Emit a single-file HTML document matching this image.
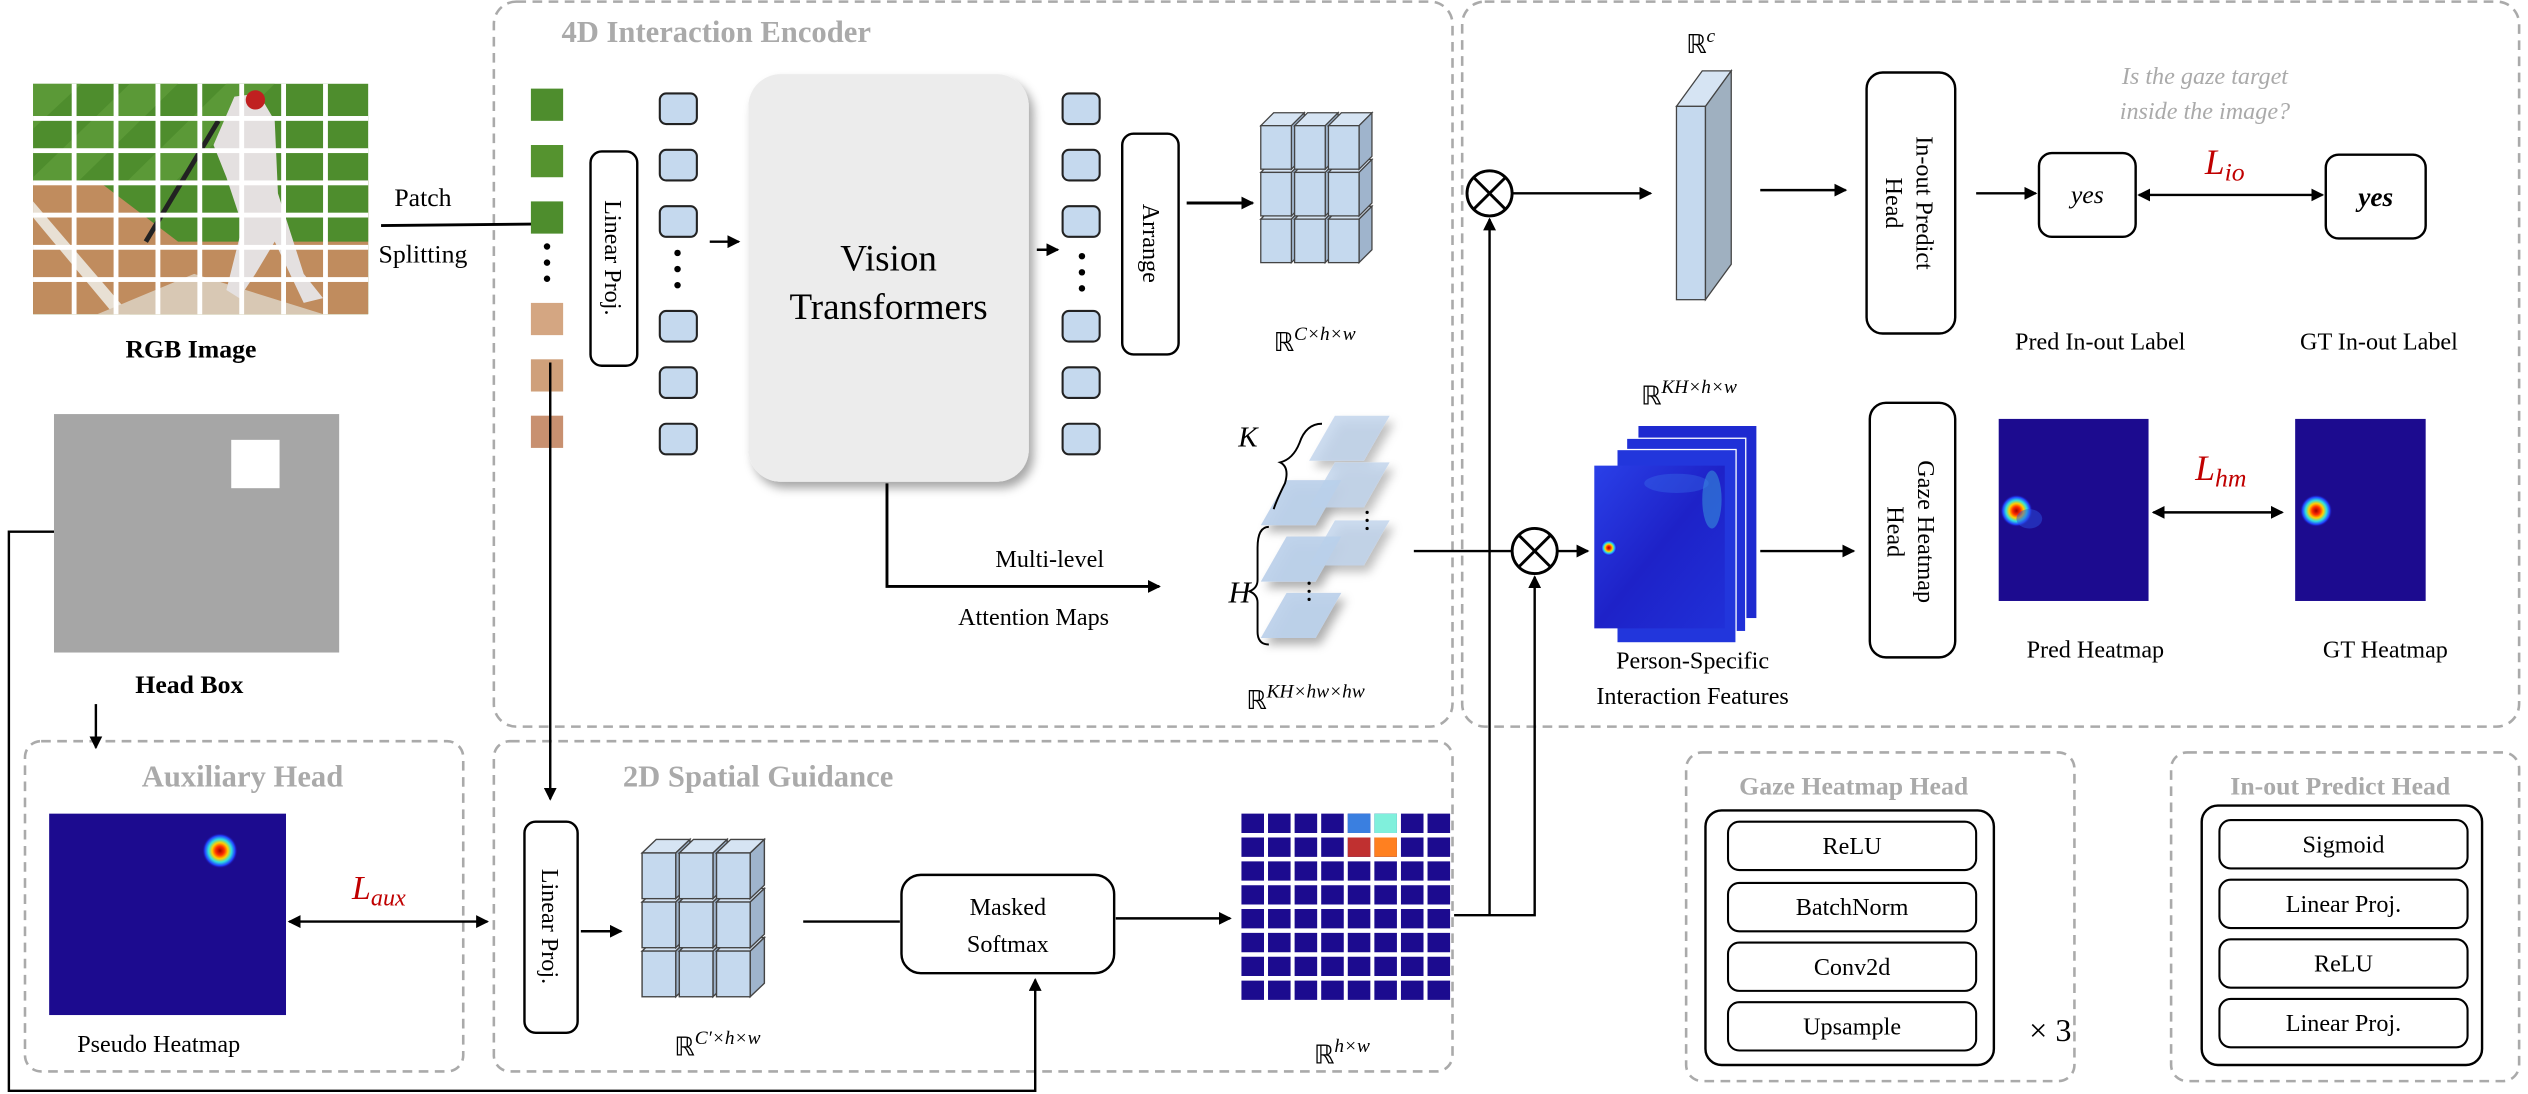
<!DOCTYPE html>
<html><head><meta charset="utf-8"><style>
html,body{margin:0;padding:0;background:#fff;}
svg{display:block;}
text{font-family:"Liberation Serif",serif;}
</style></head><body>
<svg width="2528" height="1094" viewBox="0 0 1568 679" xmlns="http://www.w3.org/2000/svg">
<defs>
<marker id="ar" markerWidth="8" markerHeight="8" refX="7" refY="4" orient="auto" markerUnits="userSpaceOnUse"><path d="M0,0 L8,4 L0,8 Z" fill="#000"/></marker>
<marker id="al" markerWidth="8" markerHeight="8" refX="1" refY="4" orient="auto" markerUnits="userSpaceOnUse"><path d="M8,0 L0,4 L8,8 Z" fill="#000"/></marker>
<radialGradient id="hot"><stop offset="0" stop-color="#a00000"/><stop offset="0.25" stop-color="#ff3000"/><stop offset="0.45" stop-color="#ffd000"/><stop offset="0.65" stop-color="#30e0e0"/><stop offset="0.85" stop-color="#2040ff"/><stop offset="1" stop-color="#1c0b8f" stop-opacity="0"/></radialGradient>
<linearGradient id="feat" x1="0" y1="0" x2="1" y2="1"><stop offset="0" stop-color="#2a40e8"/><stop offset="0.5" stop-color="#1e22c8"/><stop offset="1" stop-color="#2030d8"/></linearGradient>
<filter id="sh" x="-10%" y="-10%" width="130%" height="130%"><feDropShadow dx="3" dy="4" stdDeviation="3" flood-color="#000" flood-opacity="0.35"/></filter>
<g id="tok"><rect width="23" height="19" rx="4" fill="#c5d9ee" stroke="#222" stroke-width="1.3"/></g>
<g id="cube"><path d="M0,8 L8,0 L27,0 L19,8 Z" fill="#d6e4f3" stroke="#444" stroke-width="0.8"/><path d="M19,8 L27,0 L27,27 L19,35 Z" fill="#9fb4cc" stroke="#444" stroke-width="0.8"/><rect x="0" y="8" width="19" height="27" fill="#c5d9ee" stroke="#444" stroke-width="0.8"/></g>
<g id="cubes">
<use href="#cube" x="0" y="58"/><use href="#cube" x="21" y="58"/><use href="#cube" x="42" y="58"/>
<use href="#cube" x="0" y="29"/><use href="#cube" x="21" y="29"/><use href="#cube" x="42" y="29"/>
<use href="#cube" x="0" y="0"/><use href="#cube" x="21" y="0"/><use href="#cube" x="42" y="0"/>
</g>
<g id="plane"><path d="M16,0 L50,0 L34,28 L0,28 Z" fill="#b9cfea" opacity="0.9"/></g>
</defs>

<!-- dashed boxes -->
<g fill="none" stroke="#aaa" stroke-width="1.6" stroke-dasharray="6,4">
<rect x="306" y="1" width="595" height="450" rx="14"/>
<rect x="907" y="1" width="656" height="450" rx="14"/>
<rect x="15" y="460" width="272" height="205" rx="10"/>
<rect x="306" y="460" width="595" height="205" rx="10"/>
<rect x="1046" y="467" width="241" height="204" rx="10"/>
<rect x="1347" y="467" width="216" height="204" rx="10"/>
</g>
<g font-weight="bold" fill="#aaa" font-size="19" text-anchor="middle">
<text x="444" y="26">4D Interaction Encoder</text>
<text x="150" y="488">Auxiliary Head</text>
<text x="470" y="488">2D Spatial Guidance</text>
<text x="1150" y="493" font-size="16">Gaze Heatmap Head</text>
<text x="1452" y="493" font-size="16">In-out Predict Head</text>
</g>

<!-- RGB image -->
<g>
<rect x="20" y="52" width="208" height="143" fill="#4e8d2d"/>
<path d="M20,52 L50,52 L20,80Z M80,52 L110,52 L20,140 L20,110Z M140,52 L170,52 L60,160 L30,160Z" fill="#64a23e" opacity="0.6"/>
<rect x="20" y="112" width="208" height="83" fill="#c08c5e"/>
<path d="M60,112 L228,112 L228,150 L110,150 L60,112Z" fill="#4e8d2d"/>
<path d="M20,135 L70,195 L80,195 L20,125Z" fill="#e8e0d4"/>
<path d="M60,195 L120,170 L200,195Z" fill="#d8c8b4"/>
<path d="M145,60 L160,58 L170,75 L172,120 L188,170 L200,185 L188,188 L170,150 L158,170 L148,185 L140,180 L150,140 L140,110 L132,90 Z" fill="#e4e0e0"/>
<circle cx="158" cy="62" r="6" fill="#c02020"/>
<path d="M135,75 L90,150" stroke="#222" stroke-width="3"/>
<g fill="#fff">
<rect x="20" y="72" width="208" height="3"/><rect x="20" y="92" width="208" height="3"/><rect x="20" y="112" width="208" height="3"/><rect x="20" y="132" width="208" height="3"/><rect x="20" y="152" width="208" height="3"/><rect x="20" y="172" width="208" height="3"/>
<rect x="44" y="52" width="3" height="143"/><rect x="70" y="52" width="3" height="143"/><rect x="96" y="52" width="3" height="143"/><rect x="122" y="52" width="3" height="143"/><rect x="148" y="52" width="3" height="143"/><rect x="174" y="52" width="3" height="143"/><rect x="200" y="52" width="3" height="143"/>
</g>
</g>
<text x="118" y="222" font-size="16" font-weight="bold" text-anchor="middle">RGB Image</text>

<!-- head box -->
<rect x="33" y="257" width="177" height="148" fill="#a6a6a6"/>
<rect x="143" y="273" width="30" height="30" fill="#fff"/>
<text x="117" y="430" font-size="16" font-weight="bold" text-anchor="middle">Head Box</text>

<!-- patch splitting -->
<text x="262" y="128" font-size="16" text-anchor="middle">Patch</text>
<text x="262" y="163" font-size="16" text-anchor="middle">Splitting</text>
<line x1="236" y1="140" x2="338" y2="139" stroke="#000" stroke-width="1.8" marker-end="url(#ar)"/>

<!-- patches -->
<rect x="329" y="55" width="20" height="20" fill="#4e8d2d"/>
<rect x="329" y="90" width="20" height="20" fill="#55932f"/>
<rect x="329" y="125" width="20" height="20" fill="#4e8d2d"/>
<rect x="329" y="188" width="20" height="20" fill="#d4a682"/>
<rect x="329" y="223" width="20" height="20" fill="#cfa07a"/>
<rect x="329" y="258" width="20" height="20" fill="#c89070"/>
<g fill="#000"><circle cx="339" cy="153" r="2"/><circle cx="339" cy="163" r="2"/><circle cx="339" cy="173" r="2"/></g>

<!-- linear proj -->
<rect x="366" y="94" width="29" height="133" rx="7" fill="#fff" stroke="#000" stroke-width="1.5"/>
<text transform="translate(375,160) rotate(90)" font-size="15" text-anchor="middle">Linear Proj.</text>

<!-- tokens -->
<use href="#tok" x="409" y="58"/><use href="#tok" x="409" y="93"/><use href="#tok" x="409" y="128"/>
<use href="#tok" x="409" y="193"/><use href="#tok" x="409" y="228"/><use href="#tok" x="409" y="263"/>
<g fill="#000"><circle cx="420" cy="157" r="2"/><circle cx="420" cy="167" r="2"/><circle cx="420" cy="177" r="2"/></g>
<line x1="440" y1="150" x2="458" y2="150" stroke="#000" stroke-width="1.5" marker-end="url(#ar)"/>

<!-- ViT -->
<rect x="464" y="46" width="174" height="253" rx="20" fill="#ececec" filter="url(#sh)"/>
<text x="551" y="168" font-size="23" text-anchor="middle">Vision</text>
<text x="551" y="198" font-size="23" text-anchor="middle">Transformers</text>
<line x1="643" y1="155" x2="656" y2="155" stroke="#000" stroke-width="1.5" marker-end="url(#ar)"/>

<use href="#tok" x="659" y="58"/><use href="#tok" x="659" y="93"/><use href="#tok" x="659" y="128"/>
<use href="#tok" x="659" y="193"/><use href="#tok" x="659" y="228"/><use href="#tok" x="659" y="263"/>
<g fill="#000"><circle cx="671" cy="159" r="2"/><circle cx="671" cy="169" r="2"/><circle cx="671" cy="179" r="2"/></g>

<rect x="696" y="83" width="35" height="137" rx="7" fill="#fff" stroke="#000" stroke-width="1.5"/>
<text transform="translate(709,151) rotate(90)" font-size="15" text-anchor="middle">Arrange</text>
<line x1="736" y1="126" x2="777" y2="126" stroke="#000" stroke-width="1.8" marker-end="url(#ar)"/>

<!-- 3D cube top -->
<use href="#cubes" x="782" y="70"/>
<text x="790" y="218" font-size="16">ℝ<tspan dy="-7" font-size="12" font-style="italic">C×h×w</tspan></text>

<!-- attention planes -->
<g filter="url(#sh)">
<use href="#plane" x="812" y="258" opacity="0.8"/>
<use href="#plane" x="812" y="287" opacity="0.8"/>
<use href="#plane" x="782" y="298"/>
<use href="#plane" x="812" y="323" opacity="0.8"/>
<use href="#plane" x="782" y="333"/>
<use href="#plane" x="782" y="368"/>
</g>
<g fill="#000"><circle cx="848" cy="318" r="1"/><circle cx="848" cy="323" r="1"/><circle cx="848" cy="328" r="1"/><circle cx="812" cy="362" r="1"/><circle cx="812" cy="367" r="1"/><circle cx="812" cy="372" r="1"/></g>
<text x="768" y="277" font-size="18" font-style="italic">K</text>
<path d="M820,263 Q810,263 806,275 Q802,285 794,287 Q800,290 797,300 Q792,310 790,316" fill="none" stroke="#000" stroke-width="1.2"/>
<text x="762" y="374" font-size="19" font-style="italic">H</text>
<path d="M787,327 Q780,327 780,340 L780,360 Q780,365 775,367 Q780,369 780,374 L780,392 Q780,400 787,400" fill="none" stroke="#000" stroke-width="1.2"/>
<text x="773" y="440" font-size="16">ℝ<tspan dy="-7" font-size="12" font-style="italic">KH×hw×hw</tspan></text>

<!-- multi-level -->
<polyline points="550,300 550,364 719,364" fill="none" stroke="#000" stroke-width="1.8" marker-end="url(#ar)"/>
<text x="651" y="352" font-size="15" text-anchor="middle">Multi-level</text>
<text x="641" y="388" font-size="15" text-anchor="middle">Attention Maps</text>
<line x1="877" y1="342" x2="938" y2="342" stroke="#000" stroke-width="1.5"/>

<!-- otimes -->
<g fill="#fff" stroke="#000" stroke-width="1.8">
<circle cx="924" cy="120" r="14"/><line x1="914" y1="110" x2="934" y2="130"/><line x1="934" y1="110" x2="914" y2="130"/>
<circle cx="952" cy="342" r="14"/><line x1="942" y1="332" x2="962" y2="352"/><line x1="962" y1="332" x2="942" y2="352"/>
</g>
<line x1="938" y1="120" x2="1024" y2="120" stroke="#000" stroke-width="1.5" marker-end="url(#ar)"/>
<line x1="966" y1="342" x2="985" y2="342" stroke="#000" stroke-width="1.5" marker-end="url(#ar)"/>

<!-- Rc bar -->
<path d="M1040,66 L1056,44 L1074,44 L1058,66Z" fill="#d6e4f3" stroke="#444" stroke-width="0.8"/>
<rect x="1040" y="66" width="18" height="120" fill="#c5d9ee" stroke="#444" stroke-width="0.8"/>
<path d="M1058,66 L1074,44 L1074,164 L1058,186Z" fill="#9fb0c0" stroke="#444" stroke-width="0.8"/>
<text x="1046" y="33" font-size="16">ℝ<tspan dy="-7" font-size="12" font-style="italic">c</tspan></text>
<line x1="1092" y1="118" x2="1145" y2="118" stroke="#000" stroke-width="1.5" marker-end="url(#ar)"/>

<!-- in-out predict -->
<rect x="1158" y="45" width="55" height="162" rx="10" fill="#fff" stroke="#000" stroke-width="1.5"/>
<text transform="translate(1189,126) rotate(90)" font-size="15" text-anchor="middle">In-out Predict</text>
<text transform="translate(1170,126) rotate(90)" font-size="15" text-anchor="middle">Head</text>
<line x1="1226" y1="120" x2="1263" y2="120" stroke="#000" stroke-width="1.5" marker-end="url(#ar)"/>
<rect x="1265" y="95" width="60" height="52" rx="8" fill="#fff" stroke="#000" stroke-width="1.5"/>
<text x="1295" y="126" font-size="16" font-style="italic" text-anchor="middle">yes</text>
<rect x="1443" y="96" width="62" height="52" rx="8" fill="#fff" stroke="#000" stroke-width="1.5"/>
<text x="1474" y="128" font-size="17" font-style="italic" font-weight="bold" text-anchor="middle">yes</text>
<line x1="1327" y1="121" x2="1441" y2="121" stroke="#000" stroke-width="1.5" marker-start="url(#al)" marker-end="url(#ar)"/>
<text x="1368" y="108" font-size="22" font-style="italic" fill="#c00000" font-family="Liberation Sans, sans-serif">L<tspan font-size="16" dy="4">io</tspan></text>
<text x="1368" y="52" font-size="15" font-style="italic" fill="#aaa" text-anchor="middle">Is the gaze target</text>
<text x="1368" y="74" font-size="15" font-style="italic" fill="#aaa" text-anchor="middle">inside the image?</text>
<text x="1303" y="217" font-size="15" text-anchor="middle">Pred In-out Label</text>
<text x="1476" y="217" font-size="15" text-anchor="middle">GT In-out Label</text>

<!-- person-specific features -->
<text x="1018" y="251" font-size="16">ℝ<tspan dy="-7" font-size="12" font-style="italic">KH×h×w</tspan></text>
<rect x="1016" y="264" width="74" height="120" fill="#1e2ad0" stroke="#fff" stroke-width="0.8"/>
<rect x="1009" y="272" width="74" height="120" fill="#2030d8" stroke="#fff" stroke-width="0.8"/>
<rect x="1003" y="279" width="74" height="120" fill="#2236dc" stroke="#fff" stroke-width="0.8"/>
<rect x="989" y="289" width="81" height="101" fill="url(#feat)"/>
<ellipse cx="1062" cy="310" rx="6" ry="18" fill="#40c0e0" opacity="0.4"/>
<ellipse cx="1040" cy="300" rx="20" ry="6" fill="#4080f0" opacity="0.3"/>
<circle cx="998" cy="340" r="5" fill="url(#hot)"/>
<text x="1050" y="415" font-size="15" text-anchor="middle">Person-Specific</text>
<text x="1050" y="437" font-size="15" text-anchor="middle">Interaction Features</text>
<line x1="1092" y1="342" x2="1150" y2="342" stroke="#000" stroke-width="1.5" marker-end="url(#ar)"/>

<rect x="1160" y="250" width="53" height="158" rx="10" fill="#fff" stroke="#000" stroke-width="1.5"/>
<text transform="translate(1190,330) rotate(90)" font-size="15" text-anchor="middle">Gaze Heatmap</text>
<text transform="translate(1171,330) rotate(90)" font-size="15" text-anchor="middle">Head</text>

<rect x="1240" y="260" width="93" height="113" fill="#1c0b8f"/>
<circle cx="1251" cy="317" r="10" fill="url(#hot)"/>
<ellipse cx="1259" cy="322" rx="8" ry="6" fill="#2a50e0" opacity="0.5"/>
<rect x="1424" y="260" width="81" height="113" fill="#1c0b8f"/>
<circle cx="1437" cy="317" r="10" fill="url(#hot)"/>
<line x1="1336" y1="318" x2="1416" y2="318" stroke="#000" stroke-width="1.5" marker-start="url(#al)" marker-end="url(#ar)"/>
<text x="1362" y="298" font-size="22" font-style="italic" fill="#c00000" font-family="Liberation Sans, sans-serif">L<tspan font-size="16" dy="4">hm</tspan></text>
<text x="1300" y="408" font-size="15" text-anchor="middle">Pred Heatmap</text>
<text x="1480" y="408" font-size="15" text-anchor="middle">GT Heatmap</text>

<!-- bottom left auxiliary -->
<line x1="59" y1="437" x2="59" y2="464" stroke="#000" stroke-width="1.5" marker-end="url(#ar)"/>
<rect x="30" y="505" width="147" height="125" fill="#1c0b8f"/>
<circle cx="136" cy="528" r="11" fill="url(#hot)"/>
<text x="98" y="653" font-size="15" text-anchor="middle">Pseudo Heatmap</text>
<line x1="179" y1="572" x2="302" y2="572" stroke="#000" stroke-width="1.5" marker-start="url(#al)" marker-end="url(#ar)"/>
<text x="218" y="558" font-size="21" font-style="italic" fill="#c00000" font-family="Liberation Sans, sans-serif">L<tspan font-size="15" dy="4">aux</tspan></text>

<!-- head box feedback -->
<polyline points="33,330 5,330 5,677 642,677 642,608" fill="none" stroke="#000" stroke-width="1.5" marker-end="url(#ar)"/>

<!-- 2D spatial guidance -->
<line x1="341" y1="225" x2="341" y2="496" stroke="#000" stroke-width="1.5" marker-end="url(#ar)"/>
<rect x="325" y="510" width="33" height="131" rx="7" fill="#fff" stroke="#000" stroke-width="1.5"/>
<text transform="translate(336,575) rotate(90)" font-size="15" text-anchor="middle">Linear Proj.</text>
<line x1="360" y1="578" x2="385" y2="578" stroke="#000" stroke-width="1.5" marker-end="url(#ar)"/>
<use href="#cubes" transform="translate(398,521) scale(1.1,1.05)"/>
<text x="418" y="655" font-size="16">ℝ<tspan dy="-7" font-size="12" font-style="italic">C′×h×w</tspan></text>
<line x1="498" y1="572" x2="558" y2="572" stroke="#000" stroke-width="1.5"/>
<rect x="559" y="543" width="132" height="61" rx="12" fill="#fff" stroke="#000" stroke-width="1.5"/>
<text x="625" y="568" font-size="15" text-anchor="middle">Masked</text>
<text x="625" y="591" font-size="15" text-anchor="middle">Softmax</text>
<line x1="692" y1="570" x2="763" y2="570" stroke="#000" stroke-width="1.5" marker-end="url(#ar)"/>

<!-- grid -->
<g fill="#1c0b8f">
<g transform="translate(770,505)">
<path d="M0,0h14v12h-14z M16.5,0h14v12h-14z M33,0h14v12h-14z M49.5,0h14v12h-14z M66,0h14v12h-14z M82.5,0h14v12h-14z M99,0h14v12h-14z M115.5,0h14v12h-14z"/>
<path transform="translate(0,14.8)" d="M0,0h14v12h-14z M16.5,0h14v12h-14z M33,0h14v12h-14z M49.5,0h14v12h-14z M66,0h14v12h-14z M82.5,0h14v12h-14z M99,0h14v12h-14z M115.5,0h14v12h-14z"/>
<path transform="translate(0,29.6)" d="M0,0h14v12h-14z M16.5,0h14v12h-14z M33,0h14v12h-14z M49.5,0h14v12h-14z M66,0h14v12h-14z M82.5,0h14v12h-14z M99,0h14v12h-14z M115.5,0h14v12h-14z"/>
<path transform="translate(0,44.4)" d="M0,0h14v12h-14z M16.5,0h14v12h-14z M33,0h14v12h-14z M49.5,0h14v12h-14z M66,0h14v12h-14z M82.5,0h14v12h-14z M99,0h14v12h-14z M115.5,0h14v12h-14z"/>
<path transform="translate(0,59.2)" d="M0,0h14v12h-14z M16.5,0h14v12h-14z M33,0h14v12h-14z M49.5,0h14v12h-14z M66,0h14v12h-14z M82.5,0h14v12h-14z M99,0h14v12h-14z M115.5,0h14v12h-14z"/>
<path transform="translate(0,74)" d="M0,0h14v12h-14z M16.5,0h14v12h-14z M33,0h14v12h-14z M49.5,0h14v12h-14z M66,0h14v12h-14z M82.5,0h14v12h-14z M99,0h14v12h-14z M115.5,0h14v12h-14z"/>
<path transform="translate(0,88.8)" d="M0,0h14v12h-14z M16.5,0h14v12h-14z M33,0h14v12h-14z M49.5,0h14v12h-14z M66,0h14v12h-14z M82.5,0h14v12h-14z M99,0h14v12h-14z M115.5,0h14v12h-14z"/>
<path transform="translate(0,103.6)" d="M0,0h14v12h-14z M16.5,0h14v12h-14z M33,0h14v12h-14z M49.5,0h14v12h-14z M66,0h14v12h-14z M82.5,0h14v12h-14z M99,0h14v12h-14z M115.5,0h14v12h-14z"/>
<rect x="66" y="0" width="14" height="12" fill="#3a7fe0"/>
<rect x="82.5" y="0" width="14" height="12" fill="#80f0dc"/>
<rect x="66" y="14.8" width="14" height="12" fill="#c03030"/>
<rect x="82.5" y="14.8" width="14" height="12" fill="#ff8020"/>
</g>
</g>
<text x="815" y="660" font-size="16">ℝ<tspan dy="-7" font-size="12" font-style="italic">h×w</tspan></text>

<!-- connections to otimes -->
<polyline points="902,568 952,568 952,358" fill="none" stroke="#000" stroke-width="1.5" marker-end="url(#ar)"/>
<polyline points="924,568 924,136" fill="none" stroke="#000" stroke-width="1.5" marker-end="url(#ar)"/>

<!-- gaze heatmap head detail -->
<rect x="1058" y="503" width="179" height="158" rx="10" fill="#fff" stroke="#000" stroke-width="1.5"/>
<g fill="#fff" stroke="#000" stroke-width="1.3">
<rect x="1072" y="510" width="154" height="30" rx="7"/>
<rect x="1072" y="548" width="154" height="30" rx="7"/>
<rect x="1072" y="585" width="154" height="30" rx="7"/>
<rect x="1072" y="622" width="154" height="30" rx="7"/>
</g>
<g font-size="15" text-anchor="middle">
<text x="1149" y="530">ReLU</text>
<text x="1149" y="568">BatchNorm</text>
<text x="1149" y="605">Conv2d</text>
<text x="1149" y="642">Upsample</text>
</g>
<text x="1272" y="646" font-size="20" text-anchor="middle">× 3</text>

<rect x="1366" y="500" width="174" height="161" rx="10" fill="#fff" stroke="#000" stroke-width="1.5"/>
<g fill="#fff" stroke="#000" stroke-width="1.3">
<rect x="1377" y="509" width="154" height="30" rx="7"/>
<rect x="1377" y="546" width="154" height="30" rx="7"/>
<rect x="1377" y="583" width="154" height="30" rx="7"/>
<rect x="1377" y="620" width="154" height="30" rx="7"/>
</g>
<g font-size="15" text-anchor="middle">
<text x="1454" y="529">Sigmoid</text>
<text x="1454" y="566">Linear Proj.</text>
<text x="1454" y="603">ReLU</text>
<text x="1454" y="640">Linear Proj.</text>
</g>
</svg>
</body></html>
